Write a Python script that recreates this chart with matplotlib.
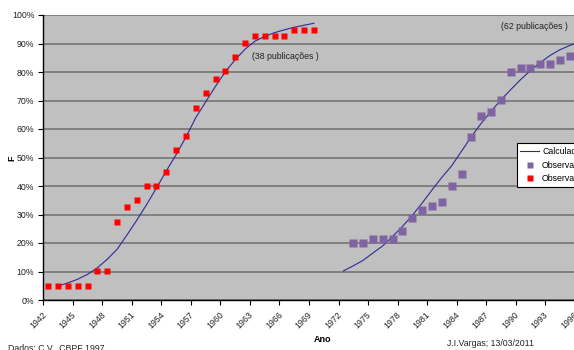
import numpy as np
import matplotlib.pyplot as plt
from matplotlib.ticker import FixedLocator, PercentFormatter

plt.rcParams['font.family'] = ['Liberation Sans', 'DejaVu Sans']

# first group (38 publicações)
obs1_years = list(range(1942, 1970))
obs1_frac = [5.0, 5.0, 5.0, 5.0, 5.0, 10.1, 10.1, 27.3, 32.5, 35.0, 40.1, 40.1, 45.0, 52.5,
             57.4, 67.3, 72.6, 77.6, 80.2, 85.1, 90.2, 92.7, 92.7, 92.7, 92.7, 94.6, 94.6, 94.6]
calc1_years = list(range(1943, 1970))
calc1_frac = [4.9, 6.0, 7.3, 9.0, 11.3, 14.3, 17.8, 22.8, 28.0, 33.5, 39.3, 45.3, 51.0, 57.2,
              64.0, 69.5, 75.0, 80.1, 84.3, 88.0, 90.8, 92.5, 93.8, 94.8, 95.7, 96.4, 97.1]

# second group (62 publicações)
obs2_years = list(range(1973, 1996))
obs2_frac = [20.0, 20.0, 21.4, 21.4, 21.4, 24.3, 28.7, 31.5, 32.9, 34.3, 40.1, 44.2, 57.1,
             64.4, 65.9, 70.2, 80.1, 81.5, 81.5, 82.9, 82.9, 84.3, 85.7]
calc2_years = list(range(1972, 1998))
calc2_frac = [10.2, 12.0, 13.9, 16.5, 19.0, 22.3, 25.8, 29.7, 34.0, 38.6, 43.0, 47.1, 52.2,
              57.3, 62.0, 66.2, 70.2, 73.8, 77.3, 80.5, 83.3, 85.8, 87.8, 89.3, 90.5, 91.6]

label_years = list(range(1942, 2000, 3))

W, H = 574, 350
fig = plt.figure(figsize=(W / 100, H / 100), dpi=100)
x0, x1 = 1941.5, 2000.5
px_per_year = 9.84
ax = fig.add_axes([43.3 / W, 50 / H, (x1 - x0) * px_per_year / W, 285 / H])
ax.set_facecolor('#C0C0C0')

line_c = '#2B2B96'
ax.plot(calc1_years, calc1_frac, color=line_c, lw=0.8, zorder=3, label='Calculado')
ax.plot(calc2_years, calc2_frac, color=line_c, lw=0.8, zorder=3)
ax.plot(obs2_years, obs2_frac, 's', color='#8064A2', ms=5.2, mec='none', zorder=4,
        label='Observado')
ax.plot(obs1_years, obs1_frac, 's', color='#FF0000', ms=4.8, mec='none', zorder=4,
        label='Observado')

ax.set_xlim(x0, x1)
ax.set_ylim(0, 100)

# tick marks sit between categories, labels at category centres
ax.xaxis.set_major_locator(FixedLocator(label_years))
ax.set_xticklabels([str(y) for y in label_years], rotation=45, ha='right', va='top',
                   fontsize=6.3, color='#222222')
ax.xaxis.set_minor_locator(FixedLocator([y - 0.5 for y in label_years]))
ax.tick_params(axis='x', which='major', length=0, pad=7)
ax.tick_params(axis='x', which='minor', length=3.5, width=0.8, direction='out')

ax.set_yticks(np.arange(0, 101, 10))
ax.yaxis.set_major_formatter(PercentFormatter(decimals=0))
ax.tick_params(axis='y', length=3.5, width=0.8, direction='out', pad=3,
               labelsize=6.3, labelcolor='#222222')

ax.yaxis.grid(True, color='#6E6E6E', lw=1.1)
ax.set_axisbelow(True)
for s in ('top', 'right'):
    ax.spines[s].set_visible(False)
for s in ('left', 'bottom'):
    ax.spines[s].set_color('black')
    ax.spines[s].set_linewidth(1.0)
    ax.spines[s].set_zorder(5)

ax.text(1962.7, 85.5, '(38 publicações )', fontsize=6.3, color='#222222',
        va='center', ha='left')
ax.text(1988.0, 96.0, '(62 publicações )', fontsize=6.3, color='#222222',
        va='center', ha='left')

fig.text(12 / W, 1 - 158 / H, 'F', rotation=90, fontsize=6.5, fontweight='bold',
         ha='center', va='center')
fig.text(322.7 / W, 1 - 339 / H, 'Ano', fontsize=6.5, fontweight='bold',
         ha='center', va='center')
fig.text(8 / W, 1 - 344 / H, 'Dados: C.V., CBPF 1997', fontsize=6.3, color='#222222',
         ha='left', va='top')
fig.text(447 / W, 1 - 344 / H, 'J.I.Vargas; 13/03/2011', fontsize=6.3, color='#222222',
         ha='left', va='center')

leg = ax.legend(loc='upper left', bbox_to_anchor=(516.7 / W, 1 - 143.3 / H),
                bbox_transform=fig.transFigure, fontsize=6.3, frameon=True,
                fancybox=False, borderaxespad=0, handlelength=2.2, handletextpad=0.3,
                labelspacing=0.55, borderpad=0.4, markerscale=0.9)
leg.get_frame().set_edgecolor('black')
leg.get_frame().set_linewidth(0.8)
leg.get_frame().set_facecolor('white')
leg.get_frame().set_alpha(1)

fig.savefig('out.png', dpi=100)
